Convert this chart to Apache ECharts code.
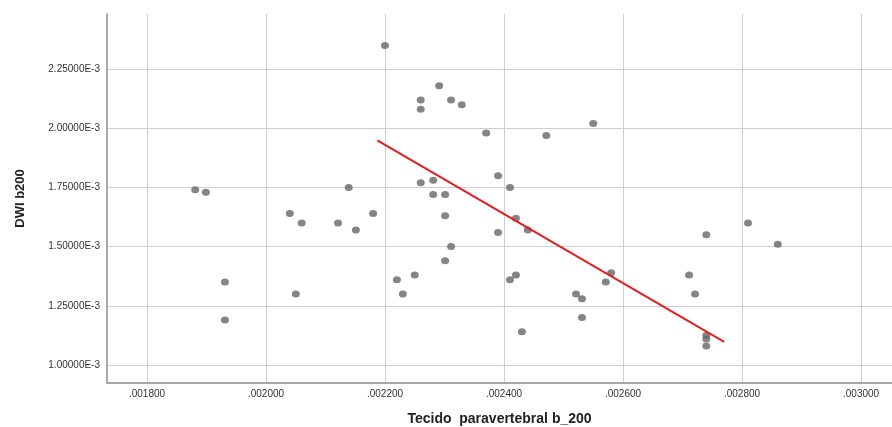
<!DOCTYPE html>
<html>
<head>
<meta charset="utf-8">
<script src="https://cdn.jsdelivr.net/npm/echarts@6/dist/echarts.min.js"></script>
<style>
  html, body { margin: 0; padding: 0; background: #fff; }
  #chart { width: 892px; height: 427px; }
</style>
</head>
<body>
<div id="chart"></div>
<script>
// tecido paravertebral b_200 (x) vs DWI b200 (y, in units of 1E-3)
var xValues = [
  0.001881, 0.001899, 0.001931, 0.001931, 0.00204, 0.00205, 0.00206, 0.002121,
  0.002151, 0.00218, 0.002139, 0.0022, 0.002291, 0.00226, 0.00226, 0.002311,
  0.002329, 0.00237, 0.002471, 0.00255, 0.00226, 0.002281, 0.002281, 0.002301,
  0.00239, 0.00241, 0.002301, 0.00242, 0.00244, 0.00239, 0.002311, 0.002301,
  0.00222, 0.00223, 0.00225, 0.00241, 0.00242, 0.00243, 0.002521, 0.002531,
  0.002531, 0.00258, 0.002571, 0.002711, 0.002721, 0.00274, 0.00281, 0.00286,
  0.00274, 0.00274, 0.00274
];
var yValues = [
  1.74, 1.73, 1.35, 1.19, 1.64, 1.30, 1.60, 1.60,
  1.57, 1.64, 1.75, 2.35, 2.18, 2.12, 2.08, 2.12,
  2.10, 1.98, 1.97, 2.02, 1.77, 1.78, 1.72, 1.72,
  1.80, 1.75, 1.63, 1.62, 1.57, 1.56, 1.50, 1.44,
  1.36, 1.30, 1.38, 1.36, 1.38, 1.14, 1.30, 1.28,
  1.20, 1.39, 1.35, 1.38, 1.30, 1.55, 1.60, 1.51,
  1.125, 1.11, 1.08
];
// fit line end points as drawn
var fitX = [0.002187, 0.00277];
var fitY = [1.949, 1.097];

var xTicks = [0.0018, 0.0020, 0.0022, 0.0024, 0.0026, 0.0028, 0.0030];
var yTicks = [0.00100, 0.00125, 0.00150, 0.00175, 0.00200, 0.00225];

var points = xValues.map(function (x, i) { return [x, yValues[i] / 1000]; });
var fitLine = fitX.map(function (x, i) { return [x, fitY[i] / 1000]; });

var myChart = echarts.init(document.getElementById('chart'));
myChart.setOption({
  animation: false,
  grid: { left: 107, top: 14, right: 0, bottom: 44, outerBoundsMode: 'none' },
  xAxis: {
    type: 'value',
    min: 0.0017328,
    max: 0.003052,
    name: 'Tecido  paravertebral b_200',
    nameLocation: 'middle',
    nameGap: 29,
    nameTextStyle: { fontFamily: 'Liberation Sans', fontWeight: 'bold', fontSize: 14, color: '#222' },
    axisLine: { show: true, lineStyle: { color: '#8c8c8c', width: 1.5 } },
    axisTick: { show: false, customValues: xTicks },
    axisLabel: {
      customValues: xTicks,
      fontFamily: 'Liberation Sans', fontSize: 10, color: '#333', margin: 6,
      formatter: function (v) { return v.toFixed(6).replace(/^0/, ''); }
    },
    splitLine: { show: true, lineStyle: { color: '#cfcfcf', width: 1 } }
  },
  yAxis: {
    type: 'value',
    min: 0.0009237,
    max: 0.002483,
    name: 'DWI b200',
    nameLocation: 'middle',
    nameGap: 80,
    nameTextStyle: { fontFamily: 'Liberation Sans', fontWeight: 'bold', fontSize: 13, color: '#222' },
    axisLine: { show: true, lineStyle: { color: '#8c8c8c', width: 1.5 } },
    axisTick: { show: false, customValues: yTicks },
    axisLabel: {
      customValues: yTicks,
      fontFamily: 'Liberation Sans', fontSize: 10, color: '#333', margin: 7,
      formatter: function (v) { return (v * 1000).toFixed(5) + 'E-3'; }
    },
    splitLine: { show: true, lineStyle: { color: '#cfcfcf', width: 1 } }
  },
  series: [
    {
      type: 'scatter',
      data: points,
      symbol: 'circle',
      symbolSize: [8, 7],
      itemStyle: { color: '#676767' }
    },
    {
      type: 'line',
      data: fitLine,
      symbol: 'none',
      lineStyle: { color: '#e41e1e', width: 2 }
    }
  ]
});
</script>
</body>
</html>
